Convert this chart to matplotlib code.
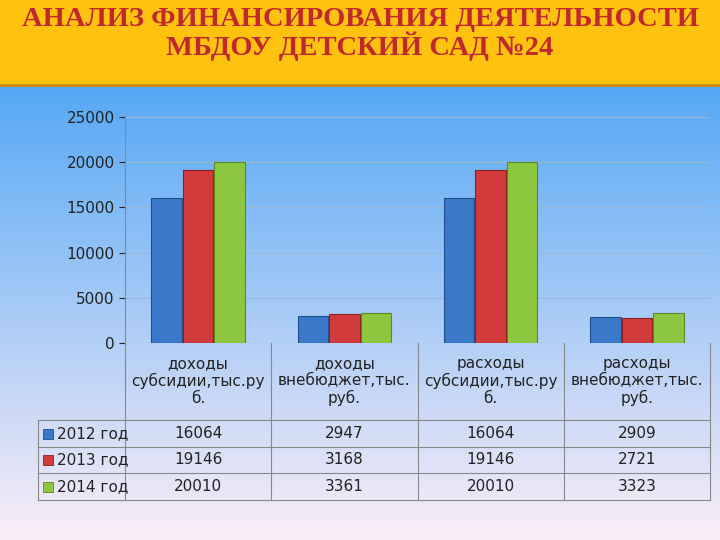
import numpy as np
import matplotlib.pyplot as plt
from matplotlib.patches import Rectangle

categories = ["доходы\nсубсидии,тыс.ру\nб.", "доходы\nвнебюджет,тыс.\nруб.",
              "расходы\nсубсидии,тыс.ру\nб.", "расходы\nвнебюджет,тыс.\nруб."]
years = ["2012 год", "2013 год", "2014 год"]
v2012 = [16064, 2947, 16064, 2909]
v2013 = [19146, 3168, 19146, 2721]
v2014 = [20010, 3361, 20010, 3323]
series = [v2012, v2013, v2014]
colors = ["#3A78C9", "#D23B3B", "#8DC63F"]
edges = ["#1F4E8C", "#8E1F1F", "#5C8A22"]

W, H = 720, 540
fig = plt.figure(figsize=(7.2, 5.4), dpi=100)

# background gradient
bg = fig.add_axes([0, 0, 1, 1])
bg.set_xlim(0, W); bg.set_ylim(H, 0); bg.axis("off")
top = np.array([0x55, 0xA8, 0xF5]) / 255
bot = np.array([0xFB, 0xEE, 0xF8]) / 255
t = np.linspace(0, 1, 256)[:, None]
grad = top * (1 - t) + bot * t
bg.imshow(grad[:, None, :].repeat(2, axis=1), extent=[0, W, H, 85], aspect="auto")
bg.add_patch(Rectangle((0, 0), W, 85, color="#FFC20E"))
bg.plot([0, W], [85, 85], color="#C98A00", lw=2)
bg.text(W / 2, 34, "АНАЛИЗ ФИНАНСИРОВАНИЯ ДЕЯТЕЛЬНОСТИ\nМБДОУ ДЕТСКИЙ САД №24",
        ha="center", va="center", fontsize=20.5, fontweight="bold",
        family="Liberation Serif", color="#C0282D", linespacing=1.0)

# table
L, R = 125, 710
colw = (R - L) / 4
lc = "#888888"
for i in range(1, 4):
    bg.plot([L + i * colw] * 2, [343, 500], color=lc, lw=0.8)
bg.plot([L, L], [343, 500], color=lc, lw=0.8)
bg.plot([R, R], [343, 500], color=lc, lw=0.8)
bg.plot([38, 38], [420, 500], color=lc, lw=0.8)
for y in [420, 447, 473, 500]:
    bg.plot([38, R], [y, y], color=lc, lw=0.8)
for i, c in enumerate(categories):
    bg.text(L + (i + 0.5) * colw, 381, c, ha="center", va="center",
            fontsize=11, color="#222222", linespacing=1.15)
rows = [(420, 447), (447, 473), (473, 500)]
for j, (y0, y1) in enumerate(rows):
    yc = (y0 + y1) / 2
    bg.add_patch(Rectangle((43, yc - 5), 10, 10, facecolor=colors[j], edgecolor=edges[j], lw=0.6))
    bg.text(57, yc, years[j], ha="left", va="center", fontsize=11, color="#222222")
    for i in range(4):
        bg.text(L + (i + 0.5) * colw, yc, str(series[j][i]), ha="center",
                va="center", fontsize=11, color="#222222")

# chart
ax = fig.add_axes([L / W, 1 - 343 / H, (R - L) / W, (343 - 117) / H])
ax.patch.set_alpha(0)
x = np.arange(4)
bw = 0.215
for j, s in enumerate(series):
    ax.bar(x + (j - 1) * bw, s, bw * 0.97, color=colors[j], edgecolor=edges[j], lw=0.8, zorder=3)
ax.set_xlim(-0.5, 3.5)
ax.set_ylim(0, 25000)
ax.set_yticks(range(0, 25001, 5000))
ax.tick_params(axis="y", labelsize=11, colors="#222222", length=4)
ax.set_xticks([])
ax.grid(axis="y", color="#9CB8D6", lw=0.8, zorder=0)
for s in ["top", "right", "bottom"]:
    ax.spines[s].set_visible(False)
ax.spines["left"].set_color(lc)

fig.savefig("out.png", dpi=100)
